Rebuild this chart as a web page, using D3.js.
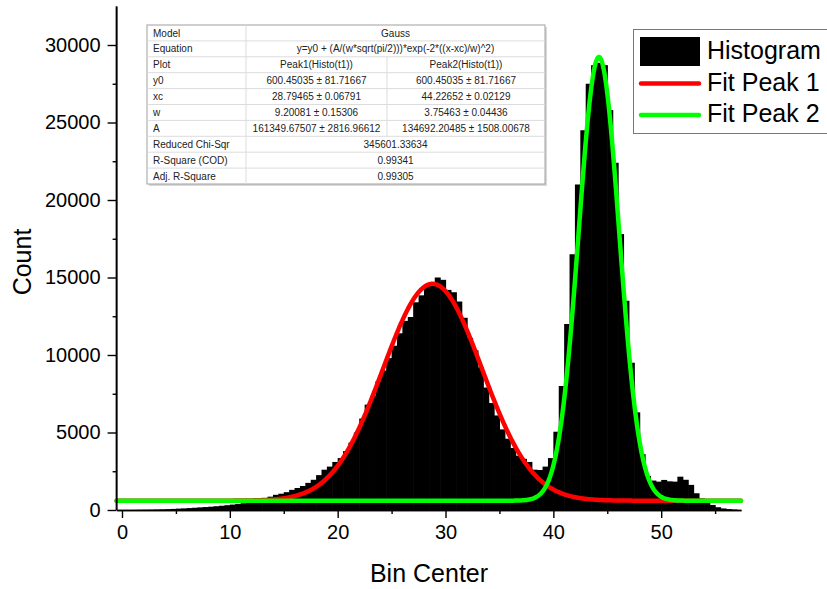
<!DOCTYPE html>
<html>
<head>
<meta charset="utf-8">
<script src="https://cdn.jsdelivr.net/npm/d3@7"></script>
<style>
  body { margin: 0; background: #fff; }
  svg { font-family: "Liberation Sans", Arial, sans-serif; }
</style>
</head>
<body>
<svg width="827" height="589"></svg>
<script>
// set data

const binCenters = [
  0.25, 0.75, 1.25, 1.75, 2.25, 2.75, 3.25, 3.75, 4.25, 4.75,
  5.25, 5.75, 6.25, 6.75, 7.25, 7.75, 8.25, 8.75, 9.25, 9.75,
  10.25, 10.75, 11.25, 11.75, 12.25, 12.75, 13.25, 13.75, 14.25, 14.75,
  15.25, 15.75, 16.25, 16.75, 17.25, 17.75, 18.25, 18.75, 19.25, 19.75,
  20.25, 20.75, 21.25, 21.75, 22.25, 22.75, 23.25, 23.75, 24.25, 24.75,
  25.25, 25.75, 26.25, 26.75, 27.25, 27.75, 28.25, 28.75, 29.25, 29.75,
  30.25, 30.75, 31.25, 31.75, 32.25, 32.75, 33.25, 33.75, 34.25, 34.75,
  35.25, 35.75, 36.25, 36.75, 37.25, 37.75, 38.25, 38.75, 39.25, 39.75,
  40.25, 40.75, 41.25, 41.75, 42.25, 42.75, 43.25, 43.75, 44.25, 44.75,
  45.25, 45.75, 46.25, 46.75, 47.25, 47.75, 48.25, 48.75, 49.25, 49.75,
  50.25, 50.75, 51.25, 51.75, 52.25, 52.75, 53.25, 53.75, 54.25, 54.75,
  55.25, 55.75, 56.25, 56.75
];

const counts = [
  0, 0, 5, 10, 15, 20, 30, 40, 55, 70,
  90, 105, 125, 145, 170, 190, 215, 245, 275, 310,
  350, 390, 440, 500, 570, 650, 740, 860, 980, 1050,
  1150, 1300, 1420, 1550, 1750, 1950, 2250, 2600, 2800, 3100,
  3350, 3800, 4350, 5000, 5900, 6800, 7350, 8300, 9000, 9800,
  10600, 11400, 12200, 12450, 13400, 13850, 14550, 14700, 15000, 14850,
  14200, 14050, 13450, 12400, 11100, 10300, 9200, 7900, 6900, 6100,
  5200, 4600, 4000, 3500, 3300, 3100, 2600, 2580, 2800, 3350,
  5050, 8000, 12000, 16500, 21000, 24500, 27500, 28700, 28850, 28700,
  25800, 22400, 17800, 13500, 9500, 6300, 3600, 2200, 1900, 1830,
  1940, 1850, 1830, 2150, 1950, 1620, 1080, 750, 520, 320,
  180, 100, 60, 30
];

const binWidth = 0.5;

// fit parameters: y0, xc, w, A
const peak1 = [600.45035, 28.79465, 9.20081, 161349.67507];
const peak2 = [600.45035, 44.22652, 3.75463, 134692.20485];

const xTicks = [0, 10, 20, 30, 40, 50];
const xMinor = [5, 15, 25, 35, 45, 55];
const yTicks = [0, 5000, 10000, 15000, 20000, 25000, 30000];
const yMinor = [2500, 7500, 12500, 17500, 22500, 27500];

const legendLabels = ["Histogram", "Fit Peak 1", "Fit Peak 2"];

// fit report table
const tableRows = [
  ["Model", "Gauss"],
  ["Equation", "y=y0 + (A/(w*sqrt(pi/2)))*exp(-2*((x-xc)/w)^2)"],
  ["Plot", "Peak1(Histo(t1))", "Peak2(Histo(t1))"],
  ["y0", "600.45035 \u00b1 81.71667", "600.45035 \u00b1 81.71667"],
  ["xc", "28.79465 \u00b1 0.06791", "44.22652 \u00b1 0.02129"],
  ["w", "9.20081 \u00b1 0.15306", "3.75463 \u00b1 0.04436"],
  ["A", "161349.67507 \u00b1 2816.96612", "134692.20485 \u00b1 1508.00678"],
  ["Reduced Chi-Sqr", "345601.33634"],
  ["R-Square (COD)", "0.99341"],
  ["Adj. R-Square", "0.99305"]
];

const svg = d3.select("svg");

// create scales

const x = d3.scaleLinear()
            .domain([-0.5, 57.4])
            .range([116.6, 741]);

const y = d3.scaleLinear()
            .domain([0, 30000])
            .range([510, 45]);

// draw the bars

const bars = binCenters.map((c, i) => ({ c: c, v: counts[i] }));

svg.append("g")
   .selectAll("rect")
   .data(bars)
   .enter()
   .append("rect")
   .attr("x", d => x(d.c - binWidth / 2))
   .attr("y", d => y(d.v))
   .attr("width", x(binWidth) - x(0) + 0.6)
   .attr("height", d => y(0) - y(d.v))
   .attr("fill", "#000");

// fit curves

const gauss = (p, xv) => p[0] + (p[3] / (p[2] * Math.sqrt(Math.PI / 2))) *
                         Math.exp(-2 * Math.pow((xv - p[1]) / p[2], 2));

const xs = d3.range(-0.5, 57.41, 0.05);

const fitLine = p => d3.line()
                       .x(d => x(d))
                       .y(d => y(gauss(p, d)))(xs);

svg.append("path")
   .attr("d", fitLine(peak1))
   .attr("fill", "none")
   .attr("stroke", "#ff0000")
   .attr("stroke-width", 4.5)
   .attr("stroke-linecap", "round");

svg.append("path")
   .attr("d", fitLine(peak2))
   .attr("fill", "none")
   .attr("stroke", "#00ff00")
   .attr("stroke-width", 4.5)
   .attr("stroke-linecap", "round");

// add axes

const styleAxis = g => {
  g.select(".domain").attr("stroke", "#000").attr("stroke-width", 1.6);
  g.selectAll(".tick line").attr("stroke", "#000").attr("stroke-width", 1.4);
  g.selectAll(".tick text").attr("fill", "#000").style("font-size", "20px");
};

// y axis runs a bit past 30000
const yTop = 6.5;

svg.append("g")
   .attr("transform", "translate(0,510)")
   .call(d3.axisBottom(x).tickValues(xMinor).tickSize(4).tickFormat("").tickSizeOuter(0))
   .call(styleAxis);

svg.append("g")
   .attr("transform", "translate(0,510)")
   .call(d3.axisBottom(x).tickValues(xTicks).tickSize(8).tickPadding(7).tickSizeOuter(0))
   .call(styleAxis);

svg.append("g")
   .attr("transform", "translate(116.6,0)")
   .call(d3.axisLeft(y).tickValues(yMinor).tickSize(4).tickFormat("").tickSizeOuter(0))
   .call(styleAxis)
   .select(".domain").attr("d", `M0,510V${yTop}`);

svg.append("g")
   .attr("transform", "translate(116.6,0)")
   .call(d3.axisLeft(y).tickValues(yTicks).tickSize(9).tickPadding(7)
           .tickFormat(d3.format("d")).tickSizeOuter(0))
   .call(styleAxis)
   .select(".domain").attr("d", `M0,510V${yTop}`);

// axis titles

svg.append("text")
   .attr("x", 429)
   .attr("y", 582)
   .attr("text-anchor", "middle")
   .style("font-size", "25px")
   .text("Bin Center");

svg.append("text")
   .attr("transform", "translate(31,262) rotate(-90)")
   .attr("text-anchor", "middle")
   .style("font-size", "25px")
   .text("Count");

// fit table

const tbl = svg.append("g");
const colX = [147, 246, 387, 545];
const tblTop = 25, rowH = 15.9;
const tblH = rowH * tableRows.length;

tbl.append("rect")
   .attr("x", colX[0] + 2).attr("y", tblTop + 2)
   .attr("width", colX[3] - colX[0]).attr("height", tblH)
   .attr("fill", "#d8d8d8");

tbl.append("rect")
   .attr("x", colX[0]).attr("y", tblTop)
   .attr("width", colX[3] - colX[0]).attr("height", tblH)
   .attr("fill", "#fff")
   .attr("stroke", "#a0a0a0");

tableRows.forEach((r, i) => {
  const ry = tblTop + i * rowH;
  const ty = ry + rowH / 2 + 3.6;
  if (i > 0) {
    tbl.append("line")
       .attr("x1", colX[0]).attr("x2", colX[3])
       .attr("y1", ry).attr("y2", ry)
       .attr("stroke", "#dcdcdc");
  }
  tbl.append("line")
     .attr("x1", colX[1]).attr("x2", colX[1])
     .attr("y1", ry).attr("y2", ry + rowH)
     .attr("stroke", "#dcdcdc");
  tbl.append("text")
     .attr("x", colX[0] + 6).attr("y", ty)
     .style("font-size", "10px").attr("fill", "#222")
     .text(r[0]);
  if (r.length === 2) {
    tbl.append("text")
       .attr("x", (colX[1] + colX[3]) / 2).attr("y", ty)
       .attr("text-anchor", "middle")
       .style("font-size", "10px").attr("fill", "#222")
       .text(r[1]);
  } else {
    tbl.append("line")
       .attr("x1", colX[2]).attr("x2", colX[2])
       .attr("y1", ry).attr("y2", ry + rowH)
       .attr("stroke", "#dcdcdc");
    [1, 2].forEach(j => {
      tbl.append("text")
         .attr("x", (colX[j] + colX[j + 1]) / 2).attr("y", ty)
         .attr("text-anchor", "middle")
         .style("font-size", "10px").attr("fill", "#222")
         .text(r[j]);
    });
  }
});

// legend

const leg = svg.append("g");

leg.append("rect")
   .attr("x", 633.5).attr("y", 29.5)
   .attr("width", 210).attr("height", 104)
   .attr("fill", "#fff")
   .attr("stroke", "#777");

leg.append("rect")
   .attr("x", 640).attr("y", 37)
   .attr("width", 60).attr("height", 29)
   .attr("fill", "#000");

leg.append("line")
   .attr("x1", 641).attr("x2", 699)
   .attr("y1", 83.5).attr("y2", 83.5)
   .attr("stroke", "#ff0000").attr("stroke-width", 4.5)
   .attr("stroke-linecap", "round");

leg.append("line")
   .attr("x1", 641).attr("x2", 699)
   .attr("y1", 115).attr("y2", 115)
   .attr("stroke", "#00ff00").attr("stroke-width", 4.5)
   .attr("stroke-linecap", "round");

leg.selectAll(".ltext")
   .data(legendLabels)
   .enter()
   .append("text")
   .attr("x", 707)
   .attr("y", (d, i) => 59 + i * 31.5)
   .style("font-size", "25px")
   .attr("fill", "#000")
   .text(d => d);
</script>
</body>
</html>
